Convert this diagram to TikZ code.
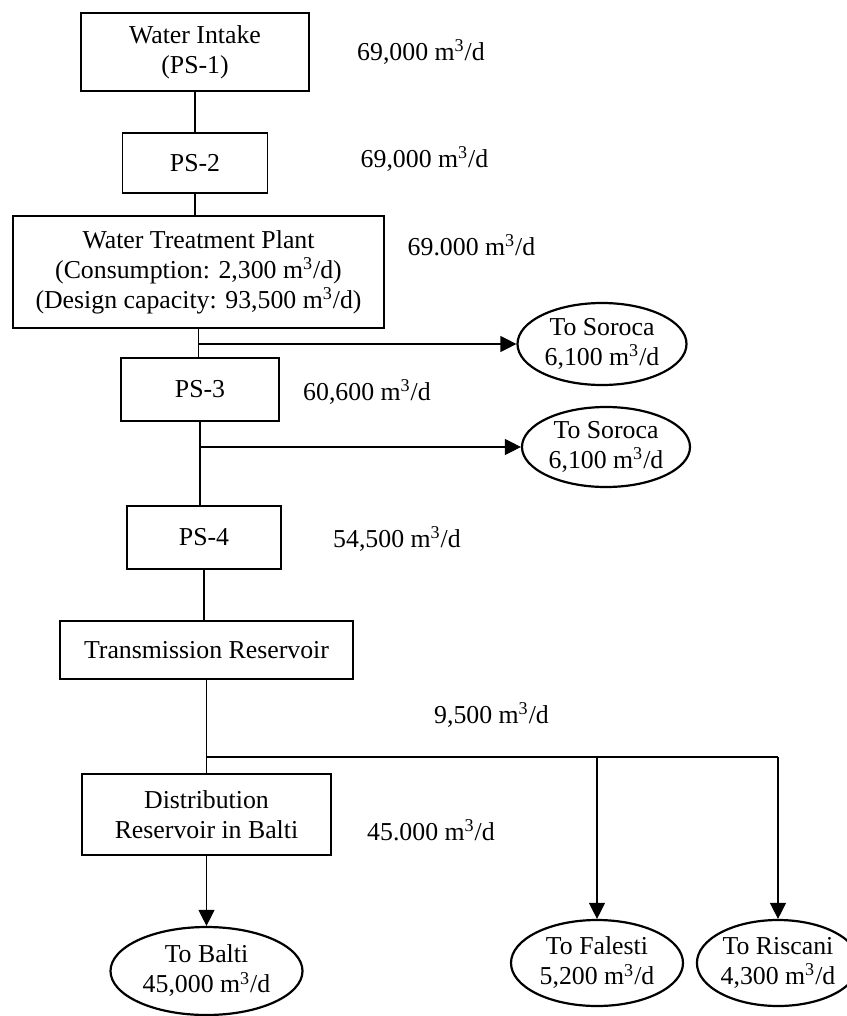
\documentclass[tikz,border=0pt]{standalone}
\usepackage{fontspec}
\setmainfont{Liberation Serif}
\usetikzlibrary{shapes.geometric,arrows.meta}
\newcommand{\mpd}{m\textsuperscript{3}/d}

\begin{document}
\begin{tikzpicture}[x=0.5pt,y=-0.5pt,
    font=\fontsize{12.9}{15}\selectfont,
    unit/.style={draw, line width=0.7pt, align=center, inner sep=0pt},
    town/.style={draw, ellipse, line width=1.1pt, align=center, inner sep=0pt},
    pipe/.style={line width=0.6pt},
    feed/.style={pipe, -{Triangle[length=8pt,width=8pt]}}]

        \useasboundingbox (0,0) rectangle (846,1016);

        % Treatment chain
        \node[unit, minimum width=114pt, minimum height=39pt] (intake) at (195,52) {Water Intake\\(PS-1)};
        \node[unit, minimum width=72.5pt, minimum height=30pt] (ps2) at (195,163) {PS-2};
        \node[unit, minimum width=185.5pt, minimum height=56pt] (wtp) at (198.5,272) {Water Treatment Plant\\(Consumption: 2,300 \mpd)\\(Design capacity: 93,500 \mpd)};
        \node[unit, minimum width=79pt, minimum height=31.5pt] (ps3) at (200,389.5) {PS-3};
        \node[unit, minimum width=77pt, minimum height=31.5pt] (ps4) at (204,537.5) {PS-4};
        \node[unit, minimum width=146.5pt, minimum height=29pt] (trans) at (206.5,650) {Transmission Reservoir};
        \node[unit, minimum width=124.5pt, minimum height=40.5pt] (dist) at (206.5,814.5) {Distribution\\Reservoir in Balti};

        % Flow rates
        \node (q1) at (421,52) {69,000 \mpd};
        \node (q2) at (424.5,159) {69,000 \mpd};
        \node (q3) at (471.5,245) {69.000 \mpd};
        \node (q4) at (367,392) {60,600 \mpd};
        \node (q5) at (397,539) {54,500 \mpd};
        \node (q6) at (491.5,715) {9,500 \mpd};
        \node (q7) at (431,830) {45.000 \mpd};

        % Destinations
        \node[town, minimum width=84.5pt, minimum height=41pt] (soroca1) at (602,344) {To Soroca\\6,100 \mpd};
        \node[town, minimum width=84pt, minimum height=40pt] (soroca2) at (606,447) {To Soroca\\6,100 \mpd};
        \node[town, minimum width=96pt, minimum height=44pt] (balti) at (206.5,971) {To Balti\\45,000 \mpd};
        \node[town, minimum width=86pt, minimum height=43pt] (falesti) at (597,963) {To Falesti\\5,200 \mpd};
        \node[town, minimum width=80pt, minimum height=43pt] (riscani) at (778,963) {To Riscani\\4,300 \mpd};

        % Pipes
        \draw[pipe] (intake.south) -- (intake.south |- ps2.north);
        \draw[pipe] (ps2.south) -- (ps2.south |- wtp.north);
        \draw[pipe] (wtp.south) -- (wtp.south |- ps3.north);
        \draw[pipe] (ps3.south) -- (ps3.south |- ps4.north);
        \draw[pipe] (ps4.south) -- (ps4.south |- trans.north);
        \draw[pipe] (trans.south) -- (dist.north);

        \coordinate (tap1) at (wtp.south |- soroca1.west);
        \coordinate (tap2) at (ps3.south |- soroca2.west);
        \coordinate (tap3) at (206.5,757);
        \coordinate (tap4) at (falesti.north |- tap3);
        \coordinate (tap5) at (riscani.north |- tap3);

        \draw[feed] (tap1) -- (soroca1.west);
        \draw[feed] (tap2) -- (soroca2.west);
        \draw[pipe] (tap3) -- (tap5);
        \draw[feed] (tap4) -- (falesti.north);
        \draw[feed] (tap5) -- (riscani.north);
        \draw[feed] (dist.south) -- (balti.north);

\end{tikzpicture}
\end{document}
